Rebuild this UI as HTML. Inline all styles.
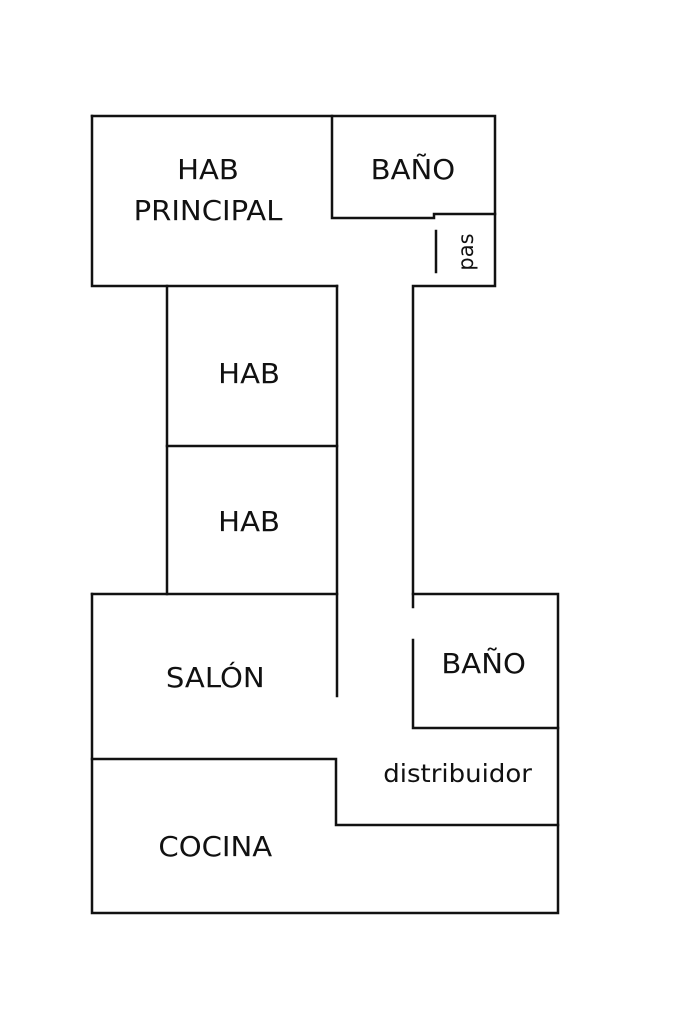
<!DOCTYPE html>
<html><head><style>html,body{margin:0;padding:0;background:#fff;width:683px;height:1023px;overflow:hidden}</style></head>
<body>
<svg width="683" height="1023" viewBox="0 0 683 1023" xmlns="http://www.w3.org/2000/svg">
<g fill="none" stroke="#111" stroke-width="2.5" stroke-linecap="square">
<path d="M92 116 H495 V286 H413 V607"/>
<path d="M92 116 V286 H337"/>
<path d="M332 116 V218 H434 V214 H495"/>
<path d="M436 231 V272"/>
<path d="M167 286 V594"/>
<path d="M337 286 V696"/>
<path d="M167 446 H337"/>
<path d="M92 594 H337"/>
<path d="M92 594 V913 H558 V594 H413"/>
<path d="M413 640 V728 H558"/>
<path d="M92 759 H336 V825 H558"/>
</g>
<g font-family="DejaVu Sans, sans-serif" fill="#111" text-anchor="middle" font-size="28" transform="scale(1.04 1)">
<text x="200" y="179">HAB</text>
<text x="200" y="220">PRINCIPAL</text>
<text x="397" y="179">BAÑO</text>
<text x="239.5" y="383">HAB</text>
<text x="239.5" y="531">HAB</text>
<text x="207" y="687">SALÓN</text>
<text x="465" y="673">BAÑO</text>
<text x="207" y="856">COCINA</text>
<text x="440" y="782" font-size="25">distribuidor</text>
</g>
<text x="0" y="0" font-family="DejaVu Sans, sans-serif" fill="#111" text-anchor="middle" font-size="21" transform="translate(473 252) rotate(-90)">pas</text>
</svg>
</body></html>
